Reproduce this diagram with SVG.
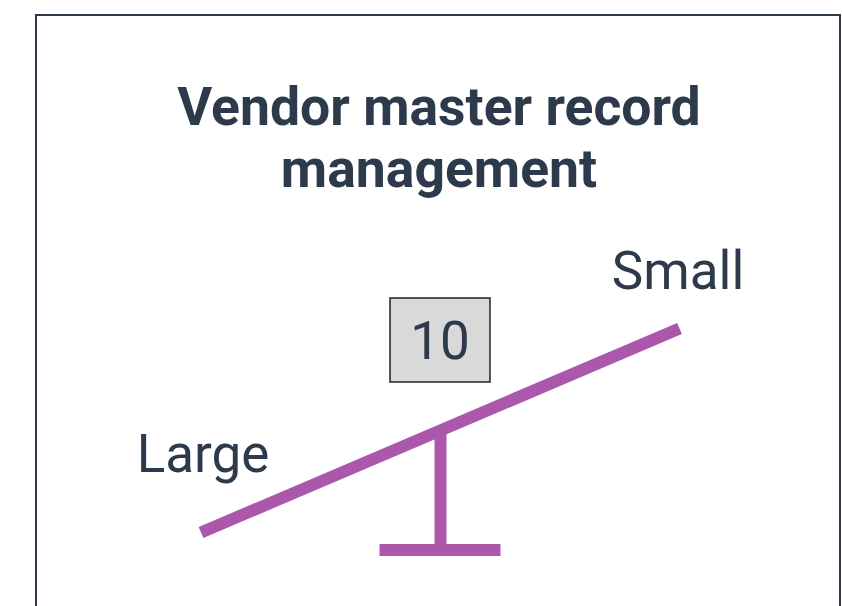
<svg xmlns="http://www.w3.org/2000/svg" width="842" height="606" viewBox="0 0 842 606">
<style>
.t{font-family:Roboto,"Liberation Sans",sans-serif;fill:#2c3a4b;text-anchor:middle}
.b{font-weight:bold;font-size:53.5px}
.r{font-size:53px}
.p{stroke:#ab57ab;fill:none}
</style>
<rect width="842" height="606" fill="#fff"/>
<g id="frame"><rect x="36" y="15" width="804" height="640" fill="none" stroke="#2c3a4b" stroke-width="2"/></g>
<g id="title">
<text class="t b" x="439" y="125">Vendor master record</text>
<text class="t b" x="439" y="187">management</text>
</g>
<g id="connectors">
<line class="p" x1="201" y1="532.5" x2="679.5" y2="328.5" stroke-width="12"/>
<line class="p" x1="440.5" y1="432" x2="440.5" y2="546" stroke-width="12"/>
<line class="p" x1="379.5" y1="550" x2="500.5" y2="550" stroke-width="12"/>
</g>
<g id="box">
<rect x="390" y="298" width="100" height="84" fill="#d9d9d9" stroke="#222" stroke-width="1.5"/>
<text class="t r" x="440" y="359">10</text>
</g>
<g id="large"><text class="t r" x="203" y="472">Large</text></g>
<g id="small"><text class="t r" x="678" y="289">Small</text></g>
</svg>
